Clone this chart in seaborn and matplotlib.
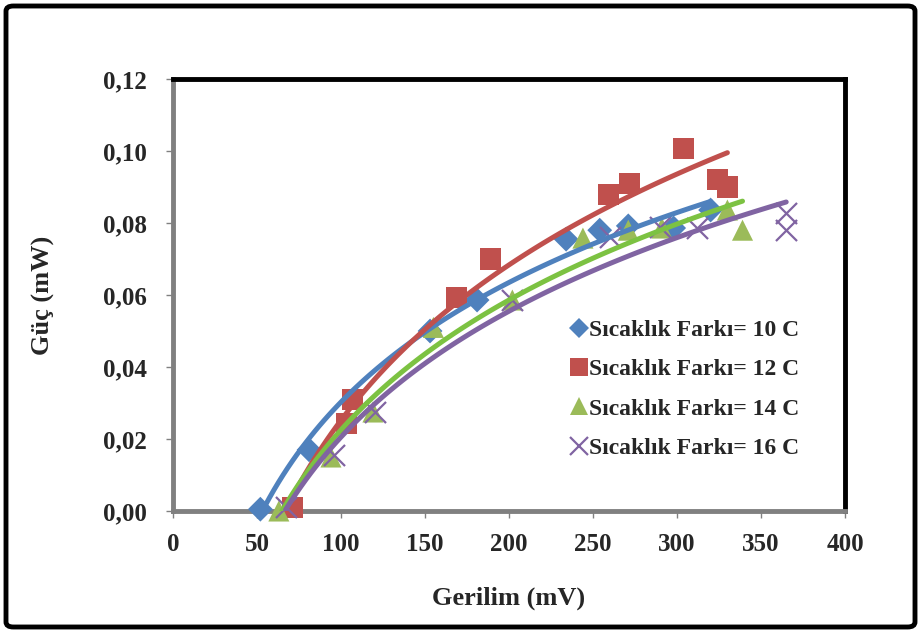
import numpy as np
import pandas as pd
import matplotlib
matplotlib.use("Agg")
import matplotlib.pyplot as plt
from matplotlib.patches import FancyBboxPatch
from matplotlib.ticker import FuncFormatter, MultipleLocator
from matplotlib.lines import Line2D
import seaborn as sns

# data: Gerilim (mV) vs Güç (mW)
x_10 = [52, 81, 153, 181, 234, 254, 271, 298, 320]
y_10 = [0.0005, 0.017, 0.050, 0.0586, 0.0755, 0.078, 0.0792, 0.0786, 0.0836]

x_12 = [71, 103, 107, 169, 189, 259, 272, 304, 324, 330]
y_12 = [0.001, 0.0244, 0.031, 0.0594, 0.070, 0.0878, 0.091, 0.1008, 0.092, 0.090]

x_14 = [63, 94, 119, 155, 202, 244, 271, 291, 330, 339]
y_14 = [0.0, 0.015, 0.0275, 0.051, 0.0586, 0.0758, 0.078, 0.0786, 0.0836, 0.078]

x_16 = [67, 96, 120, 202, 260, 290, 312, 365, 365]
y_16 = [0.001, 0.0156, 0.0275, 0.0586, 0.076, 0.079, 0.0786, 0.0828, 0.078]

labels = ["Sıcaklık Farkı= 10 C", "Sıcaklık Farkı= 12 C",
          "Sıcaklık Farkı= 14 C", "Sıcaklık Farkı= 16 C"]
marker_colors = ["#4F81BD", "#C0504D", "#9BBB59", "#8064A2"]
line_colors = ["#4F81BD", "#C0504D", "#7CC242", "#8064A2"]
markers = ["D", "s", "^", "x"]
sizes = [160, 230, 230, 230]

sns.set_theme(style="white")
plt.rcParams["font.family"] = ["Liberation Serif", "DejaVu Serif"]
plt.rcParams["font.weight"] = "bold"

fig = plt.figure(figsize=(9.21, 6.33), dpi=100)
ax = fig.add_axes([173 / 921, 1 - 511 / 633, 672 / 921, 432 / 633])

series = [(x_10, y_10), (x_12, y_12), (x_14, y_14), (x_16, y_16)]
for (xs, ys), lab, mc, mk, sz in zip(series, labels, marker_colors, markers, sizes):
    df = pd.DataFrame({"x": xs, "y": ys})
    if mk == "x":
        sns.scatterplot(data=df, x="x", y="y", ax=ax, marker=mk, s=sz, color=mc,
                        linewidth=1.6, zorder=3, clip_on=False)
    else:
        sns.scatterplot(data=df, x="x", y="y", ax=ax, marker=mk, s=sz, color=mc,
                        edgecolor="none", zorder=3, clip_on=False)

# logarithmic trend lines
for (xs, ys), lc in zip(series, line_colors):
    df = pd.DataFrame({"x": xs, "y": ys})
    sns.regplot(data=df, x="x", y="y", ax=ax, logx=True, ci=None, scatter=False,
                line_kws={"color": lc, "lw": 3.6, "solid_capstyle": "round", "zorder": 4})

ax.set_xlim(0, 400)
ax.set_ylim(0, 0.12)
ax.xaxis.set_major_locator(MultipleLocator(50))
ax.yaxis.set_major_locator(MultipleLocator(0.02))
ax.yaxis.set_major_formatter(FuncFormatter(lambda v, p: f"{v:.2f}".replace(".", ",")))

for side in ["top", "right"]:
    ax.spines[side].set_color("black")
    ax.spines[side].set_linewidth(3.5)
for side in ["left", "bottom"]:
    ax.spines[side].set_color("#808080")
    ax.spines[side].set_linewidth(3.5)

ax.tick_params(axis="both", direction="out", length=5, width=1, color="#808080",
               labelsize=18, bottom=True, left=True)
ax.tick_params(axis="x", pad=11)
ax.tick_params(axis="y", pad=14)
for t in ax.get_xticklabels() + ax.get_yticklabels():
    t.set_fontweight("bold")

ax.set_xlabel("Gerilim (mV)", fontsize=19, fontweight="bold", labelpad=22)
ax.set_ylabel("Güç (mW)", fontsize=19, fontweight="bold", labelpad=34)

handles = [Line2D([], [], linestyle="none", marker=mk, color=mc,
                  markersize=(10 if mk == "D" else 13), markeredgewidth=(1.6 if mk == "x" else 0))
           for mk, mc in zip(markers, marker_colors)]
ax.legend(handles, labels, loc="upper left", bbox_to_anchor=(551 / 921, 1 - 298 / 633),
          bbox_transform=fig.transFigure, frameon=False, handlelength=0.6,
          handletextpad=0.1, labelspacing=0.76,
          prop={"family": "Liberation Serif", "weight": "bold", "size": 17})

# outer chart frame
frame = FancyBboxPatch((6 / 921, 6 / 633), 909 / 921, 621 / 633,
                       boxstyle="round,pad=0,rounding_size=0.008",
                       transform=fig.transFigure, fill=False, edgecolor="black",
                       linewidth=3.5)
fig.patches.append(frame)

fig.savefig("out.png", dpi=100)
